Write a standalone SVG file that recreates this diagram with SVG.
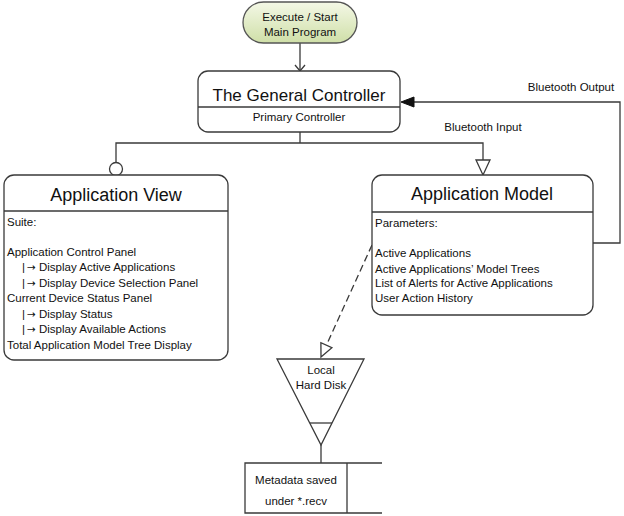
<svg xmlns="http://www.w3.org/2000/svg" width="624" height="516" viewBox="0 0 624 516">
<defs>
<linearGradient id="g" x1="0" y1="0" x2="0" y2="1">
<stop offset="0" stop-color="#f4f8e6"/>
<stop offset="1" stop-color="#cfdfa8"/>
</linearGradient>
<style>
text{font-family:"Liberation Sans",Arial,sans-serif;fill:#111}
.t{font-size:11.5px}
.h{font-size:18px}
.a{font-family:"DejaVu Sans",sans-serif;font-size:10.5px}
.box{fill:#fff;stroke:#3a3a3a;stroke-width:1.3}
.ln{fill:none;stroke:#3a3a3a;stroke-width:1.3}
</style>
</defs>
<rect width="624" height="516" fill="#fff"/>
<g id="connectors">
<path class="ln" d="M300,43 V71"/>
<path class="ln" d="M295,65 L300,71 L305,65"/>
<path class="ln" d="M300,132 V143 M116,162 V143 H483 V160"/>
<circle cx="116" cy="169" r="6.5" class="box"/>
<polygon points="476,160 490,160 483,175" class="box"/>
<path class="ln" d="M593,243 H620 V102 H413"/>
<polygon points="401,102 414,97 414,107" fill="#111" stroke="#111"/>
<path class="ln" d="M372,245 L326.4,345.2" stroke-dasharray="7,4"/>
<polygon points="321,357 331.9,347.7 320.9,342.7" class="box"/>
<path class="ln" d="M321,445 V463"/>
</g>
<g id="start">
<rect x="243" y="2" width="114" height="41" rx="20.5" fill="url(#g)" stroke="#555" stroke-width="1.3"/>
<text class="t" x="300" y="21" text-anchor="middle">Execute / Start</text>
<text class="t" x="300" y="36" text-anchor="middle">Main Program</text>
</g>
<g id="controller">
<rect class="box" x="198" y="71" width="202" height="61" rx="10"/>
<path class="ln" d="M198,107 H400"/>
<text x="299" y="101" text-anchor="middle" style="font-size:17px">The General Controller</text>
<text class="t" x="299" y="121" text-anchor="middle">Primary Controller</text>
</g>
<g id="view">
<rect class="box" x="4" y="175" width="224" height="185" rx="10"/>
<path class="ln" d="M4,211 H228"/>
<text class="h" x="116" y="201" text-anchor="middle">Application View</text>
<text class="t" x="7" y="226">Suite:</text>
<text class="t" x="7" y="256">Application Control Panel</text>
<text class="t" x="22" y="271">|<tspan class="a" dx="2">→</tspan> Display Active Applications</text>
<text class="t" x="22" y="287">|<tspan class="a" dx="2">→</tspan> Display Device Selection Panel</text>
<text class="t" x="7" y="302">Current Device Status Panel</text>
<text class="t" x="22" y="318">|<tspan class="a" dx="2">→</tspan> Display Status</text>
<text class="t" x="22" y="333">|<tspan class="a" dx="2">→</tspan> Display Available Actions</text>
<text class="t" x="7" y="349">Total Application Model Tree Display</text>
</g>
<g id="model">
<rect class="box" x="372" y="175" width="221" height="140" rx="10"/>
<path class="ln" d="M372,212 H593"/>
<text class="h" x="482" y="200" text-anchor="middle">Application Model</text>
<text class="t" x="375" y="227">Parameters:</text>
<text class="t" x="375" y="257">Active Applications</text>
<text class="t" x="375" y="273">Active Applications’ Model Trees</text>
<text class="t" x="375" y="287">List of Alerts for Active Applications</text>
<text class="t" x="375" y="302">User Action History</text>
</g>
<g id="labels">
<text class="t" x="483" y="131" text-anchor="middle">Bluetooth Input</text>
<text class="t" x="571" y="91" text-anchor="middle">Bluetooth Output</text>
</g>
<g id="disk">
<polygon class="box" points="277,359 364,359 321,445"/>
<path class="ln" d="M310,423 H332"/>
<text class="t" x="321" y="374" text-anchor="middle">Local</text>
<text class="t" x="321" y="389" text-anchor="middle">Hard Disk</text>
</g>
<g id="datastore">
<rect x="245" y="463" width="137" height="50" fill="#fff"/>
<path class="ln" d="M382,463 H245 V513 H382 M347,463 V513"/>
<text class="t" x="296" y="484" text-anchor="middle">Metadata saved</text>
<text class="t" x="296" y="505" text-anchor="middle">under *.recv</text>
</g>
</svg>
